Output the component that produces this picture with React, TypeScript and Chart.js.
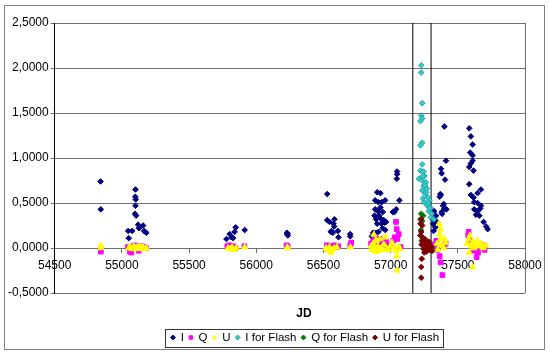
import React, { useEffect, useRef } from 'react';
import { Chart, registerables } from 'chart.js';

Chart.register(...registerables);

type P = [number, number];

// Axis settings
const X_MIN = 54500;
const X_MAX = 58000;
const X_STEP = 500;
const Y_MIN = -0.5;
const Y_MAX = 2.5;
const Y_STEP = 0.5;

// Flash window boundaries (JD)
const FLASH_LINES: number[] = [57165, 57301];

// Series: [JD, value]
const I_DATA: P[] = [
  [54841, 0.74], [54843, 0.43],
  [55101, 0.65], [55100, 0.57], [55103, 0.54], [55101, 0.47], [55098, 0.38], [55106, 0.36],
  [55047, 0.19], [55076, 0.19], [55051, 0.11], [55121, 0.26], [55133, 0.23], [55127, 0.22],
  [55158, 0.25], [55165, 0.19], [55182, 0.17],
  [55778, 0.10], [55802, 0.155], [55815, 0.12], [55828, 0.11], [55839, 0.18], [55847, 0.23], [55914, 0.20],
  [56228, 0.17], [56231, 0.155], [56235, 0.14], [56233, 0.16],
  [56528, 0.60], [56528, 0.31], [56545, 0.29], [56582, 0.32], [56575, 0.27], [56580, 0.24],
  [56555, 0.18], [56570, 0.17], [56560, 0.19], [56608, 0.19], [56612, 0.12], [56699, 0.155], [56699, 0.13],
  [57048, 0.85], [57048, 0.82], [57046, 0.77], [56900, 0.62], [56924, 0.61],
  [56885, 0.53], [56909, 0.51], [56934, 0.51], [56959, 0.53], [57065, 0.53],
  [56885, 0.43], [56905, 0.41], [56924, 0.45], [56942, 0.40], [57016, 0.40], [57028, 0.40], [57041, 0.43],
  [56892, 0.32], [56924, 0.33], [56949, 0.31], [56966, 0.29], [56900, 0.27], [56930, 0.27], [56955, 0.28],
  [56880, 0.36], [56915, 0.36], [56940, 0.22], [56960, 0.20],
  [56870, 0.17], [56890, 0.17], [56910, 0.18], [56860, 0.13],
  [57323, 0.41], [57338, 0.36], [57313, 0.32], [57345, 0.29], [57315, 0.27], [57320, 0.19], [57333, 0.23],
  [57400, 1.35], [57412, 0.97], [57375, 0.88], [57380, 0.83], [57405, 0.76], [57370, 0.60], [57365, 0.57],
  [57373, 0.59], [57390, 0.47], [57400, 0.44], [57415, 0.43], [57383, 0.38], [57380, 0.40], [57395, 0.49],
  [57585, 1.33], [57597, 1.24], [57610, 1.15], [57592, 1.06], [57610, 1.03], [57610, 0.97], [57597, 0.94],
  [57585, 0.90], [57617, 0.86], [57585, 0.71], [57672, 0.65], [57647, 0.61], [57597, 0.59], [57617, 0.56],
  [57622, 0.51], [57647, 0.50], [57672, 0.47], [57622, 0.43], [57647, 0.41], [57667, 0.44], [57635, 0.37],
  [57660, 0.36], [57692, 0.29], [57710, 0.24], [57722, 0.21],
];

const Q_DATA: P[] = [
  [54843, -0.04], [54843, -0.02],
  [55045, 0.01], [55060, -0.04], [55070, -0.05], [55085, 0.02], [55095, 0.03], [55105, 0.01], [55115, 0.02],
  [55125, -0.03], [55140, 0.0], [55150, 0.02], [55165, 0.01], [55180, 0.0],
  [55785, 0.02], [55800, 0.03], [55815, 0.01], [55830, 0.02], [55845, 0.0], [55912, 0.02],
  [56226, 0.03], [56233, 0.02],
  [56525, 0.03], [56535, 0.02], [56545, 0.0], [56565, 0.02], [56580, 0.03], [56595, 0.01], [56610, 0.02],
  [56700, 0.03], [56706, 0.06],
  [56855, 0.05], [56870, 0.08], [56885, 0.12], [56900, 0.06], [56920, 0.10], [56935, 0.05], [56950, 0.03],
  [56965, 0.07], [56980, 0.02], [57000, 0.04], [57020, 0.08], [57040, 0.29], [57045, 0.21], [57060, 0.155],
  [57050, 0.10], [57075, 0.01], [57030, 0.12],
  [57330, 0.04], [57350, -0.02], [57365, -0.09], [57385, -0.30], [57372, -0.16], [57340, 0.08], [57395, 0.02], [57410, 0.05],
  [57580, 0.18], [57578, 0.14], [57592, 0.08], [57600, 0.06], [57610, 0.02], [57620, -0.03], [57640, -0.10],
  [57650, -0.05], [57665, 0.0], [57680, 0.03], [57700, -0.02],
];

const U_DATA: P[] = [
  [54843, 0.03], [54843, 0.0],
  [55050, 0.0], [55062, 0.01], [55075, -0.01], [55088, 0.02], [55100, 0.0], [55110, 0.01], [55120, -0.01],
  [55132, 0.02], [55145, 0.0], [55158, 0.01], [55170, -0.01], [55182, 0.0],
  [55790, 0.0], [55805, -0.01], [55820, 0.01], [55835, -0.02], [55850, 0.0], [55914, 0.01],
  [56230, 0.01], [56236, 0.0],
  [56520, 0.0], [56530, -0.02], [56545, 0.01], [56555, -0.05], [56565, -0.02], [56580, 0.0], [56600, 0.01], [56700, 0.01],
  [56855, 0.02], [56862, -0.02], [56870, 0.05], [56878, 0.0], [56885, -0.04], [56895, 0.08], [56905, 0.02],
  [56912, -0.03], [56920, 0.10], [56930, 0.0], [56940, -0.02], [56950, 0.04], [56960, 0.12], [56970, 0.0],
  [56985, -0.02], [57000, 0.02], [57010, 0.06], [57025, 0.0], [57040, -0.03], [57048, -0.09], [57048, -0.25],
  [57060, 0.02], [57070, -0.01], [56875, 0.15], [56890, 0.09],
  [57360, 0.27], [57372, 0.21], [57365, 0.155], [57370, 0.10], [57345, 0.05], [57380, 0.03], [57395, 0.0],
  [57410, 0.06], [57350, -0.02], [57400, 0.10],
  [57570, 0.05], [57580, 0.10], [57590, 0.14], [57600, 0.02], [57610, 0.07], [57620, 0.0], [57630, 0.04],
  [57645, 0.08], [57660, 0.02], [57675, 0.05], [57690, 0.0], [57710, 0.03], [57610, -0.21], [57585, -0.05],
];

const I_FLASH: P[] = [
  [57228, 2.03], [57228, 1.95], [57235, 1.61], [57228, 1.47], [57235, 1.44], [57222, 1.41], [57235, 1.17],
  [57222, 1.14], [57235, 0.93], [57222, 0.86], [57245, 0.85], [57252, 0.80], [57210, 0.77], [57235, 0.75],
  [57262, 0.73], [57245, 0.69], [57270, 0.66], [57235, 0.64], [57258, 0.60], [57278, 0.56], [57240, 0.55],
  [57290, 0.53], [57250, 0.51], [57270, 0.48], [57295, 0.45], [57285, 0.41], [57305, 0.38], [57300, 0.34],
  [57320, 0.32], [57240, 0.80], [57255, 0.70], [57265, 0.62], [57280, 0.50], [57290, 0.44],
];

const Q_FLASH: P[] = [
  [57228, 0.38], [57242, 0.36], [57222, 0.32], [57235, 0.30], [57225, 0.20], [57250, 0.10], [57265, 0.05],
  [57280, 0.02], [57300, -0.03], [57310, 0.0], [57230, 0.08], [57290, 0.06], [57255, -0.02],
];

const U_FLASH: P[] = [
  [57228, 0.32], [57222, 0.27], [57235, 0.25], [57228, 0.18], [57222, 0.14], [57235, 0.12], [57240, 0.08],
  [57250, 0.05], [57260, 0.03], [57270, 0.06], [57280, 0.0], [57290, -0.02], [57300, 0.02], [57310, -0.03],
  [57245, -0.01], [57255, 0.10], [57265, -0.04], [57275, 0.04], [57285, 0.07], [57295, 0.01], [57232, -0.12],
  [57228, -0.21], [57228, -0.33], [57250, -0.05], [57230, 0.04],
];

const LEGEND_CENTER = 305;
const TITLE_CENTER = 304;

const toXY = (arr: P[]) => arr.map(([x, y]) => ({ x, y }));

const decor = {
  id: 'decor',
  beforeDraw(chart: any) {
    const ctx = chart.ctx;
    ctx.save();
    ctx.fillStyle = '#ffffff';
    ctx.fillRect(0, 0, chart.width, chart.height);
    ctx.strokeStyle = '#808080';
    ctx.lineWidth = 1;
    ctx.strokeRect(4.5, 5.5, chart.width - 10, chart.height - 11);
    ctx.restore();
  },
  afterLayout(chart: any) {
    const lg = chart.legend;
    if (lg) {
      const dx = LEGEND_CENTER - (lg.left + lg.right) / 2;
      lg.left += dx;
      lg.right += dx;
    }
    const tb = chart.titleBlock;
    if (tb) {
      const dx = TITLE_CENTER - (tb.left + tb.right) / 2;
      tb.left += dx;
      tb.right += dx;
    }
  },
  beforeDatasetsDraw(chart: any) {
    const { ctx, chartArea } = chart;
    ctx.save();
    ctx.strokeStyle = '#6e6e6e';
    ctx.lineWidth = 1;
    ctx.beginPath();
    const x = Math.round(chartArea.right) + 0.5;
    ctx.moveTo(x, chartArea.top);
    ctx.lineTo(x, chartArea.bottom);
    ctx.stroke();
    ctx.restore();
  },
  afterDraw(chart: any) {
    const lg = chart.legend;
    if (!lg || !lg.legendHitBoxes || !lg.legendHitBoxes.length) return;
    const hb = lg.legendHitBoxes;
    let l = Infinity, r = -Infinity, t = Infinity, b = -Infinity;
    for (const h of hb) {
      l = Math.min(l, h.left);
      r = Math.max(r, h.left + h.width);
      t = Math.min(t, h.top);
      b = Math.max(b, h.top + h.height);
    }
    const ctx = chart.ctx;
    ctx.save();
    ctx.strokeStyle = '#333333';
    ctx.lineWidth = 1;
    ctx.strokeRect(Math.round(l - 6) + 0.5, Math.round(t - 3) + 0.5, Math.round(r - l + 10), Math.round(b - t + 6));
    ctx.restore();
  },
};

export default function App() {
  const ref = useRef<HTMLCanvasElement | null>(null);

  useEffect(() => {
    if (!ref.current) return;
    Chart.defaults.font.family = '"Liberation Sans", Arial, sans-serif';
    Chart.defaults.color = '#000000';

    const pointDs = (label: string, data: P[], style: string, color: string, radius: number, order: number, border?: string) => ({
      label,
      data: toXY(data),
      pointStyle: style,
      pointRadius: radius,
      pointHoverRadius: radius,
      backgroundColor: color,
      borderColor: border || color,
      borderWidth: 1,
      showLine: false,
      order,
    });

    const lineDs = FLASH_LINES.map((jd) => ({
      label: '',
      data: [{ x: jd, y: Y_MIN }, { x: jd, y: Y_MAX }],
      showLine: true,
      borderColor: '#000000',
      borderWidth: 1,
      pointRadius: 0,
      order: 10,
    }));

    const chart = new Chart(ref.current, {
      type: 'scatter',
      data: {
        datasets: [
          pointDs('I', I_DATA, 'rectRot', '#000080', 2.8, 6),
          pointDs('Q', Q_DATA, 'rect', '#FF00FF', 3.3, 5),
          pointDs('U', U_DATA, 'triangle', '#FFFF00', 3.5, 4),
          pointDs('I for Flash', I_FLASH, 'rectRot', '#33CCCC', 2.8, 3, '#20A8A8'),
          pointDs('Q for Flash', Q_FLASH, 'rectRot', '#008000', 2.8, 2),
          pointDs('U for Flash', U_FLASH, 'rectRot', '#800000', 2.8, 1),
          ...lineDs,
        ] as any,
      },
      options: {
        animation: false,
        responsive: false,
        maintainAspectRatio: false,
        layout: { padding: { left: 6, right: 25, top: 23, bottom: 1.75 } },
        scales: {
          x: {
            type: 'linear',
            position: { y: 0 } as any,
            min: X_MIN,
            max: X_MAX,
            ticks: {
              stepSize: X_STEP,
              autoSkip: false,
              maxRotation: 0,
              padding: 6,
              font: { size: 12 },
              callback: (v: any) => String(v),
            },
            grid: { drawOnChartArea: false, drawTicks: true, tickLength: 4, color: '#6e6e6e' },
            border: { color: '#6e6e6e' },
          },
          y: {
            type: 'linear',
            position: 'left',
            min: Y_MIN,
            max: Y_MAX,
            ticks: {
              stepSize: Y_STEP,
              padding: 2,
              font: { size: 12 },
              callback: (v: any) => Number(v).toFixed(4).replace('.', ','),
            },
            grid: { color: '#6e6e6e', tickLength: 4 },
            border: { color: '#000000' },
          },
        },
        plugins: {
          tooltip: { enabled: false },
          title: {
            display: true,
            text: 'JD',
            position: 'bottom',
            weight: 500,
            font: { size: 12, weight: 'bold' },
            padding: { top: 13.8, bottom: 5.5 },
            color: '#000',
          } as any,
          legend: {
            display: true,
            position: 'bottom',
            labels: {
              usePointStyle: true,
              boxWidth: 4,
              boxHeight: 3.5,
              padding: 5,
              font: { size: 11.5 },
              color: '#000',
              filter: (item: any) => item.text !== '',
              sort: (a: any, b: any) => a.datasetIndex - b.datasetIndex,
            },
          },
        },
      },
      plugins: [decor],
    });
    return () => chart.destroy();
  }, []);

  return (
    <div style={{ position: 'fixed', left: 0, top: 0, width: 550, height: 355, background: '#fff' }}>
      <canvas ref={ref} width={550} height={355} style={{ width: 550, height: 355, display: 'block' }} />
    </div>
  );
}
